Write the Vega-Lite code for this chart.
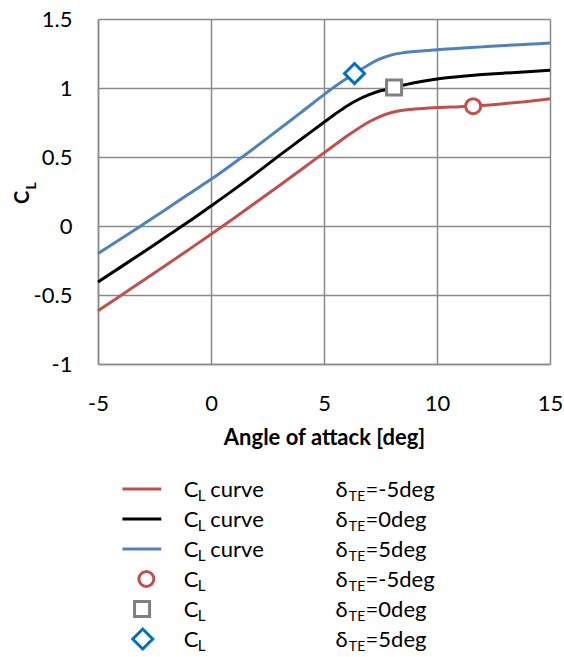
{
  "$schema": "https://vega.github.io/schema/vega-lite/v6.json",
  "background": "white",
  "padding": {"left": 12, "top": 8, "right": 0, "bottom": 0},
  "config": {"font": "Lato", "view": {"stroke": null}, "concat": {"spacing": 26}},
  "datasets": {
    "curves": [
      {"aoa": -5, "cl": -0.615, "flap": "-5"}, {"aoa": -4, "cl": -0.505, "flap": "-5"}, {"aoa": -3, "cl": -0.395, "flap": "-5"},
      {"aoa": -2, "cl": -0.285, "flap": "-5"}, {"aoa": -1, "cl": -0.173, "flap": "-5"}, {"aoa": 0, "cl": -0.06, "flap": "-5"},
      {"aoa": 1, "cl": 0.055, "flap": "-5"}, {"aoa": 2, "cl": 0.172, "flap": "-5"}, {"aoa": 3, "cl": 0.29, "flap": "-5"},
      {"aoa": 4, "cl": 0.41, "flap": "-5"}, {"aoa": 5, "cl": 0.53, "flap": "-5"}, {"aoa": 5.5, "cl": 0.59, "flap": "-5"},
      {"aoa": 6, "cl": 0.65, "flap": "-5"}, {"aoa": 6.5, "cl": 0.705, "flap": "-5"}, {"aoa": 7, "cl": 0.755, "flap": "-5"},
      {"aoa": 7.5, "cl": 0.795, "flap": "-5"}, {"aoa": 8, "cl": 0.822, "flap": "-5"}, {"aoa": 8.5, "cl": 0.838, "flap": "-5"},
      {"aoa": 9, "cl": 0.847, "flap": "-5"}, {"aoa": 10, "cl": 0.858, "flap": "-5"}, {"aoa": 11, "cl": 0.865, "flap": "-5"},
      {"aoa": 12, "cl": 0.873, "flap": "-5"}, {"aoa": 13, "cl": 0.887, "flap": "-5"}, {"aoa": 14, "cl": 0.903, "flap": "-5"},
      {"aoa": 15, "cl": 0.922, "flap": "-5"},
      {"aoa": -5, "cl": -0.405, "flap": "0"}, {"aoa": -4, "cl": -0.298, "flap": "0"}, {"aoa": -3, "cl": -0.19, "flap": "0"},
      {"aoa": -2, "cl": -0.08, "flap": "0"}, {"aoa": -1, "cl": 0.03, "flap": "0"}, {"aoa": 0, "cl": 0.145, "flap": "0"},
      {"aoa": 1, "cl": 0.262, "flap": "0"}, {"aoa": 2, "cl": 0.383, "flap": "0"}, {"aoa": 3, "cl": 0.508, "flap": "0"},
      {"aoa": 4, "cl": 0.63, "flap": "0"}, {"aoa": 5, "cl": 0.752, "flap": "0"}, {"aoa": 5.5, "cl": 0.812, "flap": "0"},
      {"aoa": 6, "cl": 0.868, "flap": "0"}, {"aoa": 6.5, "cl": 0.915, "flap": "0"}, {"aoa": 7, "cl": 0.952, "flap": "0"},
      {"aoa": 7.5, "cl": 0.98, "flap": "0"}, {"aoa": 8, "cl": 0.997, "flap": "0"}, {"aoa": 8.5, "cl": 1.02, "flap": "0"},
      {"aoa": 9, "cl": 1.038, "flap": "0"}, {"aoa": 10, "cl": 1.066, "flap": "0"}, {"aoa": 11, "cl": 1.083, "flap": "0"},
      {"aoa": 12, "cl": 1.097, "flap": "0"}, {"aoa": 13, "cl": 1.108, "flap": "0"}, {"aoa": 14, "cl": 1.118, "flap": "0"},
      {"aoa": 15, "cl": 1.128, "flap": "0"},
      {"aoa": -5, "cl": -0.2, "flap": "5"}, {"aoa": -4, "cl": -0.095, "flap": "5"}, {"aoa": -3, "cl": 0.012, "flap": "5"},
      {"aoa": -2, "cl": 0.12, "flap": "5"}, {"aoa": -1, "cl": 0.23, "flap": "5"}, {"aoa": 0, "cl": 0.338, "flap": "5"},
      {"aoa": 1, "cl": 0.455, "flap": "5"}, {"aoa": 2, "cl": 0.575, "flap": "5"}, {"aoa": 3, "cl": 0.7, "flap": "5"},
      {"aoa": 4, "cl": 0.825, "flap": "5"}, {"aoa": 5, "cl": 0.952, "flap": "5"}, {"aoa": 5.5, "cl": 1.012, "flap": "5"},
      {"aoa": 6, "cl": 1.068, "flap": "5"}, {"aoa": 6.5, "cl": 1.12, "flap": "5"}, {"aoa": 7, "cl": 1.17, "flap": "5"},
      {"aoa": 7.5, "cl": 1.212, "flap": "5"}, {"aoa": 8, "cl": 1.24, "flap": "5"}, {"aoa": 8.5, "cl": 1.255, "flap": "5"},
      {"aoa": 9, "cl": 1.264, "flap": "5"}, {"aoa": 10, "cl": 1.278, "flap": "5"}, {"aoa": 11, "cl": 1.288, "flap": "5"},
      {"aoa": 12, "cl": 1.298, "flap": "5"}, {"aoa": 13, "cl": 1.308, "flap": "5"}, {"aoa": 14, "cl": 1.317, "flap": "5"},
      {"aoa": 15, "cl": 1.326, "flap": "5"}
    ],
    "markers": [
      {"aoa": 11.6, "cl": 0.868, "flap": "-5"},
      {"aoa": 8.1, "cl": 1.003, "flap": "0"},
      {"aoa": 6.35, "cl": 1.105, "flap": "5"}
    ],
    "ytitle": [{"sub": "L"}],
    "legend": [
      {"row": 1, "flap": "-5", "kind": "line", "name": "curve", "delta": "=-5deg"},
      {"row": 2, "flap": "0", "kind": "line", "name": "curve", "delta": "=0deg"},
      {"row": 3, "flap": "5", "kind": "line", "name": "curve", "delta": "=5deg"},
      {"row": 4, "flap": "-5", "kind": "point", "name": "", "delta": "=-5deg"},
      {"row": 5, "flap": "0", "kind": "point", "name": "", "delta": "=0deg"},
      {"row": 6, "flap": "5", "kind": "point", "name": "", "delta": "=5deg"}
    ]
  },
  "vconcat": [
    {
      "width": 452,
      "height": 345,
      "layer": [
        {
          "encoding": {
            "x": {
              "field": "aoa", "type": "quantitative",
              "scale": {"domain": [-5, 15], "nice": false},
              "axis": {
                "values": [-5, 0, 5, 10, 15], "labelExpr": "datum.value + ''",
                "labelFontSize": 22, "labelColor": "#000", "labelPadding": 29, "labelFlush": false,
                "ticks": false, "domainColor": "#8a8a8a", "domainWidth": 1.5,
                "gridColor": "#8a8a8a", "gridWidth": 1.5, "gridOpacity": 1,
                "title": "Angle of attack [deg]", "titleFontSize": 22, "titleFontWeight": "bold",
                "titleColor": "#000", "titlePadding": 13
              }
            },
            "y": {
              "field": "cl", "type": "quantitative",
              "scale": {"domain": [-1, 1.5], "nice": false},
              "axis": {
                "values": [-1, -0.5, 0, 0.5, 1, 1.5], "labelExpr": "datum.value + ''",
                "labelFontSize": 22, "labelColor": "#000", "labelPadding": 26, "labelFlush": false,
                "ticks": false, "domainColor": "#8a8a8a", "domainWidth": 1.5,
                "gridColor": "#8a8a8a", "gridWidth": 1.5, "gridOpacity": 1,
                "title": "C", "titleFontSize": 20, "titleFontWeight": "bold", "titleColor": "#000",
                "titlePadding": 1, "titleY": 178
              }
            }
          },
          "layer": [
            {
              "data": {"name": "curves"},
              "mark": {"type": "line", "strokeWidth": 3, "interpolate": "monotone"},
              "encoding": {
                "color": {"field": "flap", "type": "nominal", "scale": {"domain": ["-5", "0", "5"], "range": ["#C0504D", "#000000", "#4F81BD"]}, "legend": null}
              }
            },
            {
              "data": {"name": "markers"},
              "transform": [{"filter": "datum.flap == '-5'"}],
              "mark": {"type": "point", "shape": "circle", "size": 225, "fill": "white", "fillOpacity": 1, "stroke": "#C0504D", "strokeWidth": 3, "opacity": 1}
            },
            {
              "data": {"name": "markers"},
              "transform": [{"filter": "datum.flap == '0'"}],
              "mark": {"type": "point", "shape": "square", "size": 225, "fill": "white", "fillOpacity": 1, "stroke": "#808080", "strokeWidth": 3, "opacity": 1}
            },
            {
              "data": {"name": "markers"},
              "transform": [{"filter": "datum.flap == '5'"}],
              "mark": {"type": "point", "shape": "diamond", "size": 400, "fill": "white", "fillOpacity": 1, "stroke": "#0070C0", "strokeWidth": 3, "opacity": 1}
            }
          ]
        },
        {
          "data": {"name": "ytitle"},
          "mark": {"type": "text", "angle": 270, "fontSize": 14, "fontWeight": "bold", "align": "center", "baseline": "middle", "color": "#000", "clip": false},
          "encoding": {"x": {"datum": -7.93, "type": "quantitative"}, "y": {"datum": 0.29, "type": "quantitative"}, "text": {"field": "sub"}}
        }
      ]
    },
    {
      "width": 452,
      "height": 174,
      "data": {"name": "legend"},
      "encoding": {
        "y": {"field": "row", "type": "quantitative", "scale": {"domain": [0.5, 6.3], "reverse": true, "nice": false, "zero": false}, "axis": null}
      },
      "layer": [
        {
          "transform": [{"filter": "datum.kind == 'line'"}],
          "mark": {"type": "rule", "strokeWidth": 3},
          "encoding": {
            "x": {"datum": -3.92, "scale": {"domain": [-5, 15], "nice": false}, "axis": null},
            "x2": {"datum": -2.2},
            "color": {"field": "flap", "type": "nominal", "scale": {"domain": ["-5", "0", "5"], "range": ["#C0504D", "#000000", "#4F81BD"]}, "legend": null}
          }
        },
        {
          "transform": [{"filter": "datum.row == 4"}],
          "mark": {"type": "point", "shape": "circle", "size": 225, "fill": "white", "fillOpacity": 1, "stroke": "#C0504D", "strokeWidth": 3, "opacity": 1},
          "encoding": {"x": {"datum": -2.86}}
        },
        {
          "transform": [{"filter": "datum.row == 5"}],
          "mark": {"type": "point", "shape": "square", "size": 225, "fill": "white", "fillOpacity": 1, "stroke": "#808080", "strokeWidth": 3, "opacity": 1},
          "encoding": {"x": {"datum": -3.05}}
        },
        {
          "transform": [{"filter": "datum.row == 6"}],
          "mark": {"type": "point", "shape": "diamond", "size": 400, "fill": "white", "fillOpacity": 1, "stroke": "#0070C0", "strokeWidth": 3, "opacity": 1},
          "encoding": {"x": {"datum": -3.02}}
        },
        {
          "mark": {"type": "text", "fontSize": 22, "align": "left", "baseline": "alphabetic", "dy": 8, "color": "#000"},
          "encoding": {"x": {"datum": -1.21}, "text": {"value": "C"}}
        },
        {
          "mark": {"type": "text", "fontSize": 15, "align": "left", "baseline": "alphabetic", "dy": 12, "color": "#000"},
          "encoding": {"x": {"datum": -0.59}, "text": {"value": "L"}}
        },
        {
          "transform": [{"filter": "datum.name != ''"}],
          "mark": {"type": "text", "fontSize": 22, "align": "left", "baseline": "alphabetic", "dy": 8, "color": "#000"},
          "encoding": {"x": {"datum": -0.03}, "text": {"field": "name"}}
        },
        {
          "mark": {"type": "text", "fontSize": 22, "align": "left", "baseline": "alphabetic", "dy": 8, "color": "#000"},
          "encoding": {"x": {"datum": 5.51}, "text": {"value": "δ"}}
        },
        {
          "mark": {"type": "text", "fontSize": 14, "align": "left", "baseline": "alphabetic", "dy": 12, "color": "#000"},
          "encoding": {"x": {"datum": 6.1}, "text": {"value": "TE"}}
        },
        {
          "mark": {"type": "text", "fontSize": 22, "align": "left", "baseline": "alphabetic", "dy": 8, "color": "#000"},
          "encoding": {"x": {"datum": 6.84}, "text": {"field": "delta"}}
        }
      ]
    }
  ]
}
